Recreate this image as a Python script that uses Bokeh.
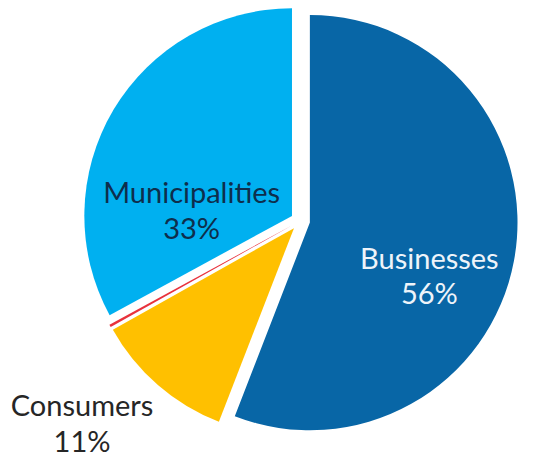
import math
from bokeh.plotting import figure
from bokeh.models import Range1d, ColumnDataSource
from bokeh.core.properties import value
from bokeh.embed import file_html
from bokeh.resources import INLINE

# ---- data ----
categories = ["Businesses", "Consumers", "Other", "Municipalities"]
shares = [56.0, 11.0, 0.2, 33.0]
show_label = [True, True, False, True]

# ---- style ----
colors = ["#0866a6", "#ffc000", "#e8323c", "#00b0f0"]
text_colors = ["#eef4fa", "#262626", "#262626", "#0e2e4c"]
# label anchor (centre of the two-line block, offsets from pie centre)
label_offsets = [(133, -56), (-225, -209), (0, 0), (-112, 12)]

W, H = 523, 460            # figure size in px (fits the window with 8px margin)
DW, DH = 539, 476          # data extent (reference layout units)
cx, cy = 309, 248          # pie centre
R = 214
EXPLODE = 10
LINE_GAP = 37

total = sum(shares)
starts, ends, xs, ys = [], [], [], []
cum = 0.0
for s in shares:
    a0 = math.pi / 2 - 2 * math.pi * (cum + s) / total
    a1 = math.pi / 2 - 2 * math.pi * cum / total
    mid = (a0 + a1) / 2
    starts.append(a0)
    ends.append(a1)
    xs.append(cx + EXPLODE * math.cos(mid))
    ys.append(cy + EXPLODE * math.sin(mid))
    cum += s

src = ColumnDataSource(dict(x=xs, y=ys, start=starts, end=ends, color=colors))

p = figure(width=W, height=H, output_backend="svg", toolbar_location=None,
           x_range=Range1d(0, DW), y_range=Range1d(0, DH), min_border=0)
p.axis.visible = False
p.grid.visible = False
p.outline_line_color = None
p.background_fill_color = "white"

p.wedge(x="x", y="y", radius=R, start_angle="start", end_angle="end",
        fill_color="color", line_color=None, source=src)

lx, ly1, ly2, t1, t2, tc = [], [], [], [], [], []
for cat, s, show, (ox, oy), col in zip(categories, shares, show_label, label_offsets, text_colors):
    if not show:
        continue
    pct = round(100 * s / total)
    lx.append(cx + ox)
    ly1.append(cy + oy + LINE_GAP / 2)
    ly2.append(cy + oy - LINE_GAP / 2)
    t1.append(cat)
    t2.append(f"{pct}%")
    tc.append(col)

lsrc = ColumnDataSource(dict(x=lx, y1=ly1, y2=ly2, t1=t1, t2=t2, c=tc))
for ycol, tcol in (("y1", "t1"), ("y2", "t2")):
    p.text(x="x", y=ycol, text=tcol, text_color="c", source=lsrc,
           text_font=value("Lato"), text_font_size="29px",
           text_align="center", text_baseline="alphabetic")

open("out.html", "w").write(file_html(p, INLINE))
